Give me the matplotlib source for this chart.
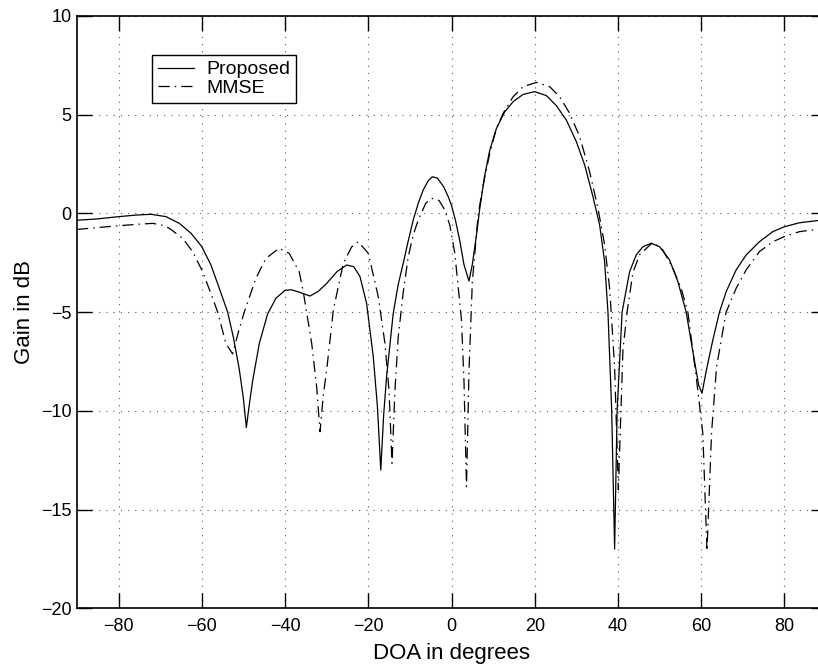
import matplotlib
matplotlib.use("Agg")
import matplotlib.pyplot as plt
import numpy as np

# values (DOA in degrees, gain in dB)
prop_doa = [-90, -85.4, -80, -75.8, -72.2, -68.6, -65.4, -62.6, -60, -57.8, -55.8,
            -53.8, -52.4, -51, -50, -49.3, -48.6, -47.8, -46.2, -44.2, -42.2, -40,
            -38.5, -36.5, -34, -32, -30, -27.5, -25.2, -23.5, -22, -20.4, -18.8,
            -17.8, -17, -16.3, -15.6, -14, -12.8, -11.6, -10.4, -9.2, -8, -6.8,
            -5.6, -4.6, -3.4, -1.9, -0.8, 0, 1, 2, 3, 4.2, 5, 6, 6.8, 8, 9.2, 10.8,
            12.8, 14.8, 17.2, 20, 22.8, 25.2, 27.6, 30, 32, 34, 35.6, 36.8, 37.6,
            38.5, 39.2, 39.8, 41.0, 42.8, 44.4, 46, 48, 50, 52.4, 54.4, 56.4, 58,
            59.4, 60.2, 61.2, 62.8, 64.4, 66, 68.4, 70.8, 74, 77.2, 80, 83.6, 87.9,
            90]
prop_gain = [-0.35, -0.29, -0.17, -0.09, -0.05, -0.17, -0.51, -1.01, -1.69, -2.62,
             -3.8, -5.0, -6.3, -7.9, -9.4, -10.85, -9.7, -8.5, -6.6, -5.1, -4.3,
             -3.9, -3.87, -4.0, -4.19, -3.95, -3.55, -2.95, -2.62, -2.7, -3.2,
             -4.56, -7.26, -9.8, -13.0, -10.2, -8.27, -5.06, -3.6, -2.53, -1.4,
             -0.34, 0.5, 1.18, 1.65, 1.85, 1.78, 1.35, 0.85, 0.4, -0.4, -1.4, -2.6,
             -3.43, -2.6, -1.1, 0.25, 1.94, 3.2, 4.3, 5.14, 5.65, 6.02, 6.16, 5.96,
             5.45, 4.72, 3.63, 2.45, 0.84, -0.59, -2.45, -5.0, -10.0, -17.0, -10.0,
             -5.0, -2.96, -2.11, -1.69, -1.52, -1.69, -2.36, -3.46, -5.0, -7.0,
             -8.7, -9.11, -8.0, -6.42, -5.0, -3.97, -2.87, -2.11, -1.44, -0.93,
             -0.68, -0.48, -0.37, -0.34]

mmse_doa = [-90, -85, -80, -75, -71.8, -69.5, -67.8, -64.6, -62.2, -59.8, -57.4,
            -56.2, -54.2, -52.6, -51.2, -49.8, -47, -44.6, -41.4, -39, -36.6,
            -35.6, -33.6, -32.4, -31.6, -30.8, -30, -28.4, -26, -24, -22.4, -20,
            -17.6, -16, -15, -14.3, -13.6, -12.8, -11.6, -10.4, -9.2, -8, -6.2,
            -4.8, -3, -1.6, -0.4, 0.8, 2.4, 3.0, 3.6, 4.2, 5, 6.4, 7.6, 9.2, 10.8,
            12.4, 14.8, 17.2, 20.4, 23.6, 26, 28.4, 30.8, 33.2, 35.2, 36.8, 38,
            39.2, 40.1, 41.2, 42.2, 43.6, 45.2, 48.4, 50.8, 53.2, 55.2, 56.8, 58.8,
            60.4, 61.4, 62.5, 63.7, 66, 68.4, 70.8, 74, 77.2, 80, 83.6, 87.9, 90]
mmse_gain = [-0.82, -0.72, -0.63, -0.55, -0.51, -0.6, -0.76, -1.27, -1.94, -2.96,
             -4.3, -5.0, -6.6, -7.12, -6.0, -5.0, -3.29, -2.28, -1.77, -2.03, -2.96,
             -4.0, -6.58, -8.8, -11.06, -9.2, -7.93, -4.9, -2.53, -1.7, -1.44,
             -2.03, -4.22, -6.58, -9.0, -12.66, -9.0, -6.25, -4.0, -2.2, -1.1,
             -0.34, 0.5, 0.76, 0.65, 0.17, -0.6, -2.03, -5.4, -8.5, -13.84, -8.0,
             -3.5, -0.08, 1.43, 3.04, 4.3, 5.06, 5.9, 6.41, 6.63, 6.41, 5.9, 5.06,
             3.88, 2.1, 0.25, -1.6, -3.8, -7.77, -14.0, -6.92, -5.0, -3.0, -2.1,
             -1.47, -1.86, -2.78, -3.8, -5.0, -8.27, -11.14, -17.1, -11.1, -7.77,
             -5.0, -3.8, -2.87, -1.94, -1.44, -1.18, -0.93, -0.81, -0.8]

plt.rcParams['font.family'] = ['Liberation Sans', 'DejaVu Sans']

fig = plt.figure(figsize=(8.18, 6.71), dpi=100)
ax = fig.add_axes([77 / 818, 1 - 608.3 / 671, (826 - 77) / 818, (608.3 - 15.8) / 671])

ax.plot(prop_doa, prop_gain, color='black', lw=0.9, label='Proposed')
ax.plot(mmse_doa, mmse_gain, color='black', lw=0.9, dashes=(9, 4, 1.2, 4), label='MMSE')

ax.set_xlim(-90, 90)
ax.set_ylim(-20, 10)
ax.set_xticks(np.arange(-80, 81, 20))
ax.set_yticks(np.arange(-20, 11, 5))
ax.grid(True, color='0.35', lw=0.8, dashes=(1, 5.5))
ax.tick_params(direction='in', length=11, width=1, top=True, right=True,
               labelsize=13, color='black')
ax.tick_params(axis='x', pad=7)
ax.tick_params(axis='y', pad=4)
for s in ax.spines.values():
    s.set_linewidth(1.2)

ax.set_xlabel('DOA in degrees', fontsize=16, labelpad=6)
ax.set_ylabel('Gain in dB', fontsize=16, labelpad=4)

leg = ax.legend(loc='upper left', bbox_to_anchor=(0.0997, 0.934), borderaxespad=0,
                fontsize=14, handlelength=1.9, handletextpad=0.6, fancybox=False,
                framealpha=1, edgecolor='black', borderpad=0.3, labelspacing=0.05)
leg.get_frame().set_linewidth(1.0)

fig.savefig('out.png', dpi=100)
